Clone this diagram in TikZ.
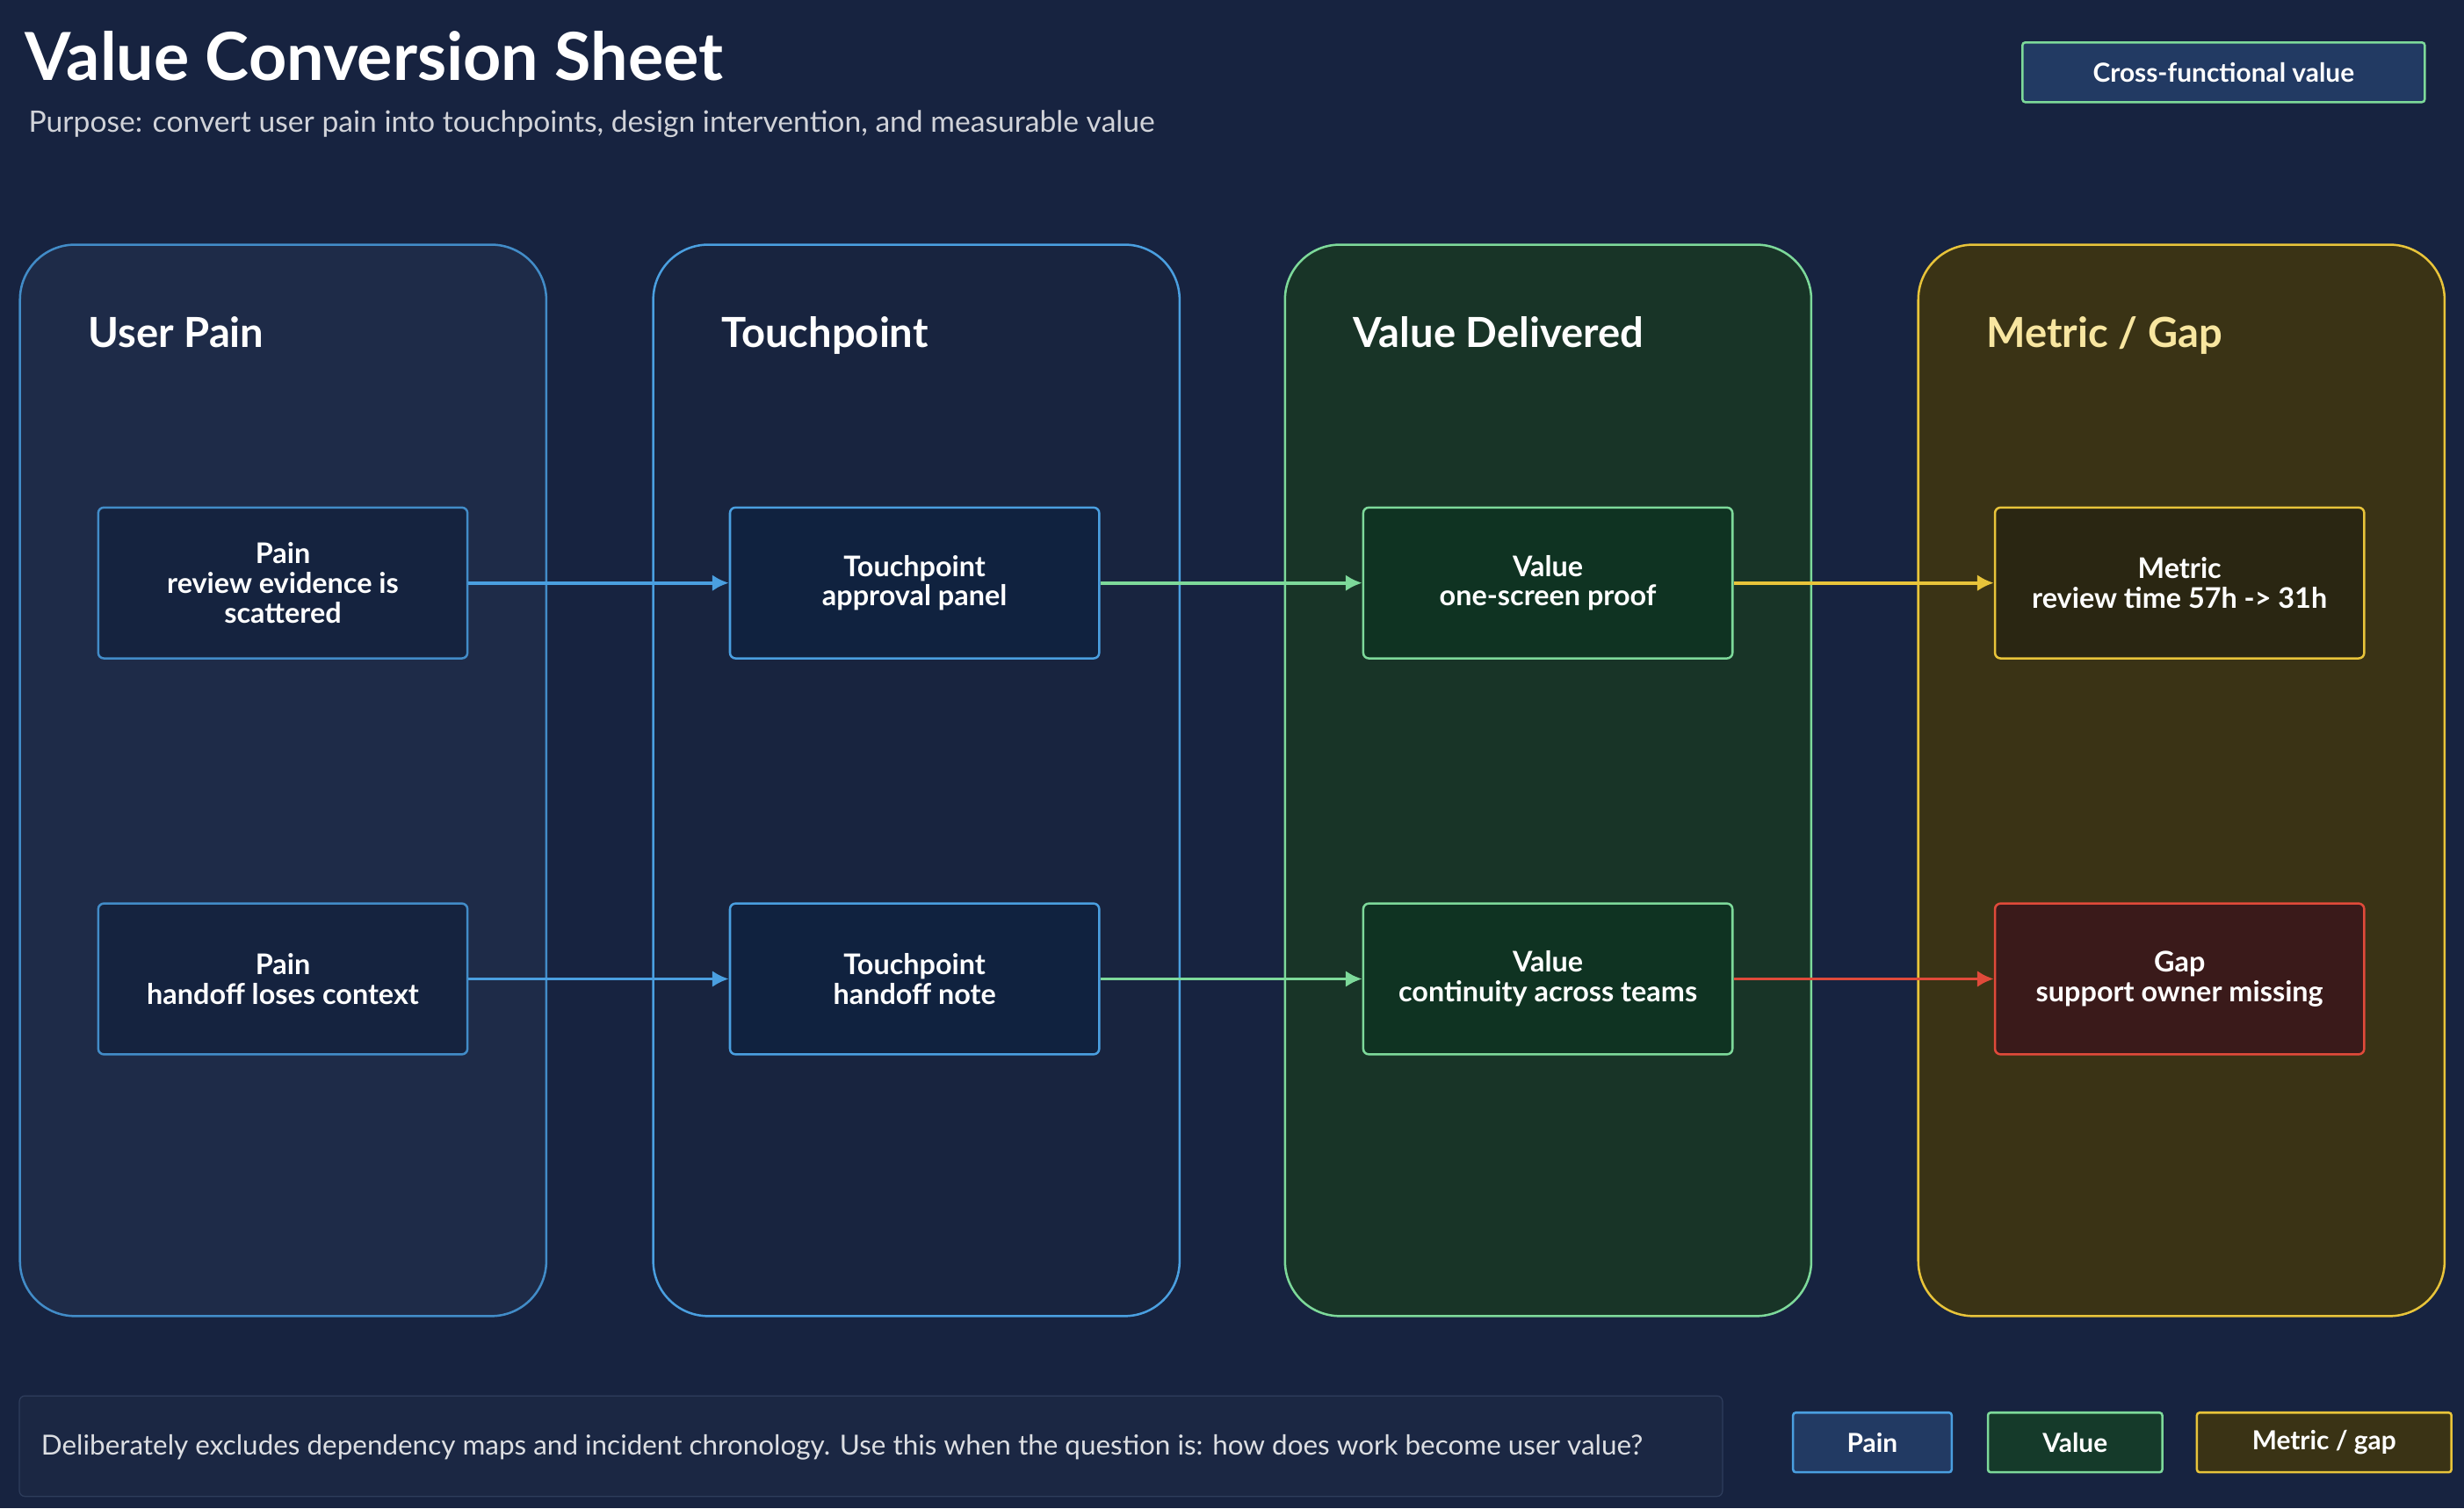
\documentclass[tikz,border=0pt]{standalone}
\usepackage{fontspec}
\setmainfont{Lato}
\usetikzlibrary{arrows.meta,positioning}
\definecolor{bg}{HTML}{172340}
\definecolor{bluel}{HTML}{4A9FE0}
\definecolor{greenl}{HTML}{7DD99A}
\definecolor{yell}{HTML}{E8C43A}
\definecolor{redl}{HTML}{E04A3A}
\tikzset{
  lane/.style={draw=#1,rounded corners=0.7cm,line width=0.8pt,anchor=north west,minimum width=6.7cm,minimum height=13.64cm},
  head/.style={anchor=base west,font=\fontsize{15}{16}\selectfont\bfseries},
  card/.style={draw=#1,rounded corners=2pt,line width=0.8pt,minimum width=4.7cm,minimum height=1.92cm,align=center,text=white,font=\fontsize{10.3}{10.8}\selectfont\bfseries},
  flow/.style={draw=#1,line width=1.2pt,-{Latex[length=6pt,width=6pt]}},
  tag/.style={draw=#1,line width=0.8pt,rounded corners=1pt,text=white,minimum height=0.76cm,font=\fontsize{9.5}{10}\selectfont\bfseries}
}
\begin{document}
\begin{tikzpicture}[x=0.02cm,y=-0.02cm]
  \fill[bg] (0,0) rectangle (1568,960);
  % title
  \node[anchor=base west,text=white,font=\fontsize{24}{26}\selectfont\bfseries] (title) at (10,51) {Value Conversion Sheet};
  \node[anchor=base west,text=white!80!bg,font=\fontsize{10.7}{12}\selectfont] (sub) at (12,84) {Purpose: convert user pain into touchpoints, design intervention, and measurable value};
  \node[tag=greenl,fill={rgb,255:red,34;green,58;blue,99},minimum width=5.12cm] (badge) at (1415,46) {Cross-functional value};

  % lanes
  \node[lane=bluel!85!bg,fill={rgb,255:red,30;green,43;blue,72}] (l1) at (12,155) {};
  \node[lane=bluel,fill={rgb,255:red,24;green,36;blue,63}] (l2) at (415,155) {};
  \node[lane=greenl,fill={rgb,255:red,24;green,52;blue,39}] (l3) at (817,155) {};
  \node[lane=yell,fill={rgb,255:red,58;green,51;blue,21}] (l4) at (1220,155) {};
  \node[head,text=white] at (50,221) {User Pain};
  \node[head,text=white] at (453,221) {Touchpoint};
  \node[head,text=white] at (855,221) {Value Delivered};
  \node[head,text={rgb,255:red,248;green,230;blue,160}] at (1258,221) {Metric / Gap};

  % cards
  \node[card=bluel!85!bg,fill={rgb,255:red,21;green,35;blue,63}] (p1) at (180,371) {Pain\\review evidence is\\scattered};
  \node[card=bluel,fill={rgb,255:red,16;green,34;blue,63}] (t1) at (582,371) {Touchpoint\\approval panel};
  \node[card=greenl,fill={rgb,255:red,15;green,51;blue,34}] (v1) at (985,371) {Value\\one-screen proof};
  \node[card=yell,fill={rgb,255:red,42;green,38;blue,18}] (m1) at (1387,371) {Metric\\review time 57h -> 31h};
  \node[card=bluel!85!bg,fill={rgb,255:red,21;green,35;blue,63}] (p2) at (180,623) {Pain\\handoff loses context};
  \node[card=bluel,fill={rgb,255:red,16;green,34;blue,63}] (t2) at (582,623) {Touchpoint\\handoff note};
  \node[card=greenl,fill={rgb,255:red,15;green,51;blue,34}] (v2) at (985,623) {Value\\continuity across teams};
  \node[card=redl,fill={rgb,255:red,58;green,26;blue,26}] (g2) at (1387,623) {Gap\\support owner missing};

  % flows
  \draw[flow=bluel] (p1) -- (t1);
  \draw[flow=greenl] (t1) -- (v1);
  \draw[flow=yell] (v1) -- (m1);
  \draw[flow=bluel] (p2) -- (t2);
  \draw[flow=greenl] (t2) -- (v2);
  \draw[flow=redl] (v2) -- (g2);

  % footer
  \node[draw={rgb,255:red,46;green,61;blue,92},fill={rgb,255:red,27;green,39;blue,67},rounded corners=2pt,anchor=north west,minimum width=21.68cm,minimum height=1.28cm] (note) at (12,888) {};
  \node[anchor=base west,text=white!85!bg,font=\fontsize{10}{11}\selectfont] at (20,926) {Deliberately excludes dependency maps and incident chronology. Use this when the question is: how does work become user value?};
  \node[tag=bluel,fill={rgb,255:red,34;green,58;blue,99},minimum width=2.02cm] (kp) at (1191.5,918) {Pain};
  \node[tag=greenl,fill={rgb,255:red,21;green,58;blue,42},minimum width=2.22cm] (kv) at (1320.5,918) {Value};
  \node[tag=yell,fill={rgb,255:red,58;green,51;blue,21},minimum width=3.24cm] (km) at (1479,918) {Metric / gap};
\end{tikzpicture}
\end{document}
